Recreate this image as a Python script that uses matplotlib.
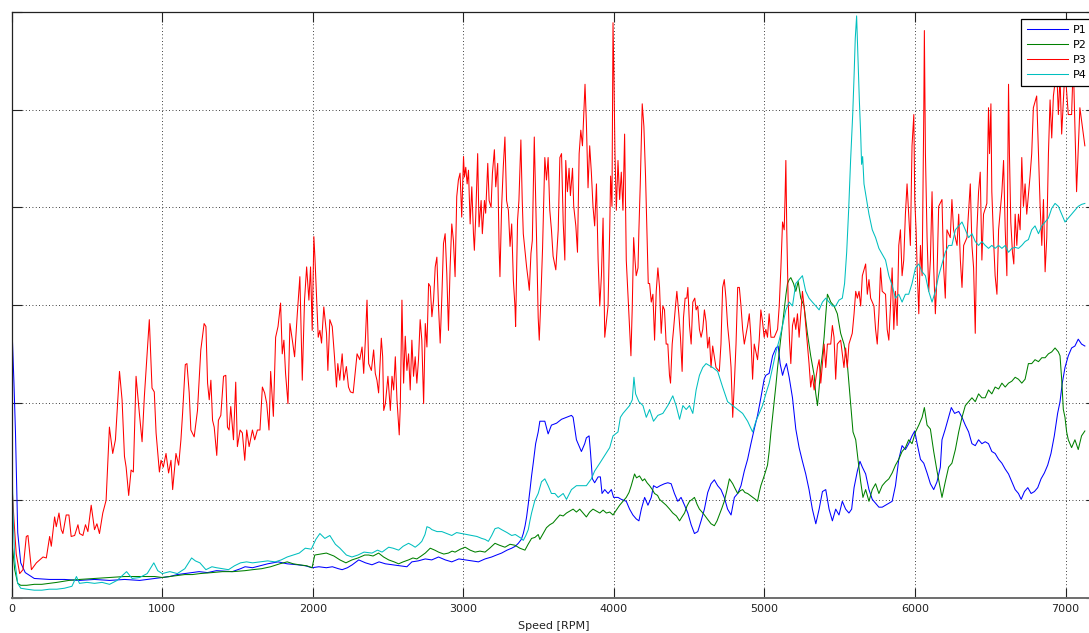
import matplotlib
matplotlib.use("Agg")
import matplotlib.pyplot as plt

plt.rcParams["font.family"] = ["DejaVu Sans"]

# ---- data -------------------------------------------------------------
x_ticks = [0, 1000, 2000, 3000, 4000, 5000, 6000, 7000]
x_tick_labels = ["0", "1000", "2000", "3000", "4000", "5000", "6000", "7000"]
series_names = ["P1", "P2", "P3", "P4"]

p1_rpm = [0, 15, 25, 40, 60, 90, 150, 250, 350, 450, 550, 650, 750, 850, 950, 1000,
          1050, 1100, 1150, 1245, 1300, 1360, 1465, 1520, 1550, 1600, 1650, 1700, 1770,
          1830, 1900, 1950, 1996, 2040, 2090, 2130, 2170, 2195, 2230, 2262, 2305, 2350,
          2393, 2440, 2482, 2530, 2580, 2625, 2658, 2700, 2747, 2790, 2835, 2880, 2923,
          2970, 3012, 3056, 3100, 3144, 3188, 3220, 3254, 3290, 3321, 3345, 3365, 3385,
          3398, 3410, 3420, 3431, 3442, 3453, 3464, 3480, 3497, 3508, 3541, 3563, 3585,
          3619, 3652, 3685, 3718, 3729, 3751, 3773, 3784, 3806, 3817, 3835, 3844, 3857,
          3872, 3895, 3910, 3921, 3939, 3961, 3983, 3998, 4027, 4049, 4082, 4104, 4126,
          4148, 4166, 4182, 4204, 4226, 4248, 4263, 4285, 4307, 4336, 4358, 4380, 4402,
          4424, 4446, 4469, 4491, 4513, 4535, 4557, 4579, 4601, 4623, 4645, 4667, 4689,
          4711, 4733, 4755, 4778, 4800, 4822, 4844, 4866, 4888, 4910, 4932, 4954, 4976,
          4998, 5009, 5031, 5054, 5076, 5091, 5104, 5120, 5131, 5146, 5164, 5186, 5208,
          5230, 5252, 5274, 5296, 5318, 5341, 5363, 5385, 5407, 5429, 5451, 5473, 5495,
          5517, 5539, 5561, 5579, 5595, 5617, 5634, 5650, 5672, 5694, 5716, 5738, 5760,
          5782, 5804, 5826, 5848, 5870, 5892, 5914, 5936, 5958, 5980, 5998, 6014, 6036,
          6058, 6080, 6102, 6124, 6146, 6168, 6179, 6201, 6223, 6241, 6263, 6290, 6312,
          6334, 6356, 6378, 6400, 6422, 6444, 6466, 6488, 6510, 6532, 6555, 6577, 6599,
          6621, 6643, 6665, 6687, 6705, 6727, 6749, 6771, 6793, 6815, 6837, 6859, 6881,
          6903, 6925, 6947, 6963, 6978, 6996, 7018, 7040, 7062, 7084, 7106, 7128]
p1_val = [2.85, 2.20, 1.70, 0.67, 0.36, 0.26, 0.20, 0.19, 0.19, 0.18, 0.19, 0.18, 0.19,
          0.18, 0.20, 0.21, 0.22, 0.24, 0.25, 0.27, 0.26, 0.28, 0.27, 0.30, 0.32, 0.31,
          0.33, 0.35, 0.37, 0.35, 0.34, 0.33, 0.31, 0.32, 0.31, 0.32, 0.30, 0.29, 0.31,
          0.34, 0.39, 0.36, 0.34, 0.37, 0.35, 0.34, 0.33, 0.32, 0.37, 0.38, 0.40, 0.39,
          0.42, 0.39, 0.37, 0.40, 0.39, 0.38, 0.37, 0.40, 0.42, 0.44, 0.46, 0.49, 0.51,
          0.53, 0.56, 0.60, 0.66, 0.74, 0.83, 0.96, 1.10, 1.25, 1.38, 1.58, 1.70, 1.81,
          1.81, 1.68, 1.77, 1.79, 1.83, 1.85, 1.87, 1.85, 1.62, 1.54, 1.50, 1.58, 1.64,
          1.66, 1.50, 1.22, 1.18, 1.24, 1.24, 1.07, 1.11, 1.07, 1.11, 1.03, 1.03, 1.01,
          0.99, 0.91, 0.85, 0.81, 0.79, 0.91, 1.03, 0.95, 1.03, 1.15, 1.13, 1.15, 1.17,
          1.18, 1.17, 1.07, 0.99, 1.03, 0.95, 0.87, 0.75, 0.66, 0.68, 0.79, 0.91, 1.08,
          1.17, 1.21, 1.15, 1.11, 1.03, 0.91, 0.85, 1.03, 1.07, 1.15, 1.30, 1.42, 1.58,
          1.73, 1.87, 2.05, 2.24, 2.28, 2.30, 2.48, 2.56, 2.58, 2.40, 2.28, 2.34, 2.40,
          2.26, 2.05, 1.73, 1.54, 1.40, 1.27, 1.11, 0.91, 0.76, 0.91, 1.09, 1.11, 0.91,
          0.79, 0.91, 0.85, 0.99, 0.91, 0.87, 0.91, 1.13, 1.30, 1.40, 1.34, 1.27, 1.11,
          1.01, 0.97, 0.93, 0.93, 0.95, 0.97, 0.99, 1.15, 1.42, 1.56, 1.52, 1.58, 1.66,
          1.71, 1.58, 1.42, 1.38, 1.28, 1.17, 1.11, 1.19, 1.34, 1.62, 1.73, 1.85, 1.95,
          1.89, 1.91, 1.85, 1.77, 1.70, 1.58, 1.56, 1.62, 1.58, 1.60, 1.58, 1.50, 1.48,
          1.42, 1.38, 1.32, 1.27, 1.19, 1.11, 1.07, 1.01, 1.09, 1.13, 1.07, 1.09, 1.13,
          1.22, 1.28, 1.36, 1.48, 1.66, 1.89, 2.01, 2.20, 2.36, 2.48, 2.56, 2.58, 2.65,
          2.60, 2.58]

p2_rpm = [0, 10, 20, 40, 60, 100, 150, 200, 250, 300, 380, 450, 550, 650, 750, 850,
          950, 1000, 1050, 1100, 1150, 1200, 1250, 1330, 1400, 1470, 1550, 1600, 1660,
          1720, 1780, 1830, 1870, 1910, 1960, 1995, 2013, 2050, 2090, 2140, 2180, 2220,
          2260, 2300, 2345, 2371, 2400, 2437, 2470, 2504, 2540, 2570, 2600, 2636, 2665,
          2691, 2720, 2747, 2780, 2810, 2835, 2870, 2901, 2925, 2945, 2980, 3012, 3045,
          3078, 3110, 3144, 3175, 3210, 3240, 3276, 3310, 3343, 3375, 3409, 3430, 3453,
          3475, 3497, 3508, 3530, 3552, 3574, 3596, 3618, 3641, 3663, 3685, 3707, 3729,
          3751, 3773, 3795, 3817, 3839, 3861, 3884, 3906, 3928, 3950, 3972, 3994, 4016,
          4038, 4060, 4082, 4100, 4115, 4137, 4150, 4170, 4190, 4204, 4220, 4237, 4255,
          4270, 4290, 4303, 4325, 4347, 4370, 4391, 4415, 4436, 4452, 4469, 4485, 4502,
          4520, 4535, 4552, 4568, 4585, 4601, 4620, 4645, 4667, 4685, 4700, 4717, 4733,
          4750, 4767, 4789, 4805, 4822, 4840, 4855, 4870, 4888, 4905, 4921, 4940, 4954,
          4965, 4976, 4998, 5020, 5031, 5043, 5054, 5065, 5076, 5087, 5098, 5109, 5120,
          5131, 5142, 5153, 5164, 5175, 5193, 5208, 5224, 5241, 5263, 5285, 5307, 5330,
          5340, 5352, 5363, 5374, 5385, 5396, 5407, 5418, 5430, 5440, 5462, 5484, 5506,
          5528, 5550, 5561, 5572, 5588, 5606, 5621, 5639, 5654, 5672, 5694, 5716, 5738,
          5760, 5782, 5804, 5826, 5848, 5870, 5892, 5914, 5936, 5958, 5980, 6003, 6025,
          6047, 6062, 6080, 6102, 6124, 6146, 6164, 6179, 6201, 6223, 6245, 6268, 6290,
          6312, 6334, 6356, 6378, 6400, 6422, 6444, 6466, 6488, 6510, 6532, 6555, 6577,
          6599, 6621, 6643, 6665, 6687, 6709, 6731, 6753, 6775, 6797, 6820, 6842, 6864,
          6886, 6908, 6930, 6952, 6963, 6974, 6985, 6996, 7007, 7018, 7040, 7062, 7084,
          7106, 7128]
p2_val = [0.59, 0.45, 0.29, 0.15, 0.13, 0.13, 0.14, 0.14, 0.15, 0.16, 0.18, 0.19, 0.20,
          0.21, 0.22, 0.22, 0.22, 0.21, 0.22, 0.23, 0.24, 0.24, 0.25, 0.26, 0.27, 0.27,
          0.28, 0.29, 0.30, 0.32, 0.35, 0.37, 0.35, 0.34, 0.33, 0.31, 0.44, 0.45, 0.46,
          0.43, 0.39, 0.36, 0.39, 0.41, 0.44, 0.44, 0.43, 0.46, 0.42, 0.39, 0.37, 0.35,
          0.37, 0.39, 0.41, 0.40, 0.43, 0.46, 0.51, 0.49, 0.47, 0.45, 0.46, 0.48, 0.47,
          0.50, 0.52, 0.49, 0.47, 0.48, 0.47, 0.51, 0.56, 0.54, 0.52, 0.55, 0.54, 0.51,
          0.49, 0.55, 0.61, 0.62, 0.65, 0.60, 0.66, 0.72, 0.75, 0.77, 0.81, 0.85, 0.84,
          0.87, 0.89, 0.91, 0.88, 0.91, 0.87, 0.83, 0.88, 0.91, 0.89, 0.87, 0.90, 0.87,
          0.88, 0.85, 0.90, 0.95, 0.99, 1.03, 1.08, 1.15, 1.27, 1.23, 1.25, 1.20, 1.22,
          1.18, 1.15, 1.11, 1.07, 1.05, 1.01, 0.98, 0.95, 0.91, 0.87, 0.84, 0.79, 0.83,
          0.87, 0.94, 0.99, 1.01, 1.03, 0.96, 0.91, 0.88, 0.85, 0.81, 0.76, 0.74, 0.79,
          0.85, 0.92, 0.99, 1.10, 1.22, 1.17, 1.12, 1.07, 1.10, 1.11, 1.08, 1.07, 1.05,
          1.03, 1.01, 0.99, 1.08, 1.15, 1.25, 1.36, 1.50, 1.70, 1.86, 2.01, 2.18, 2.36,
          2.52, 2.67, 2.80, 2.95, 3.10, 3.22, 3.26, 3.28, 3.22, 3.14, 3.24, 3.07, 2.99,
          2.71, 2.48, 2.28, 2.10, 1.97, 2.15, 2.36, 2.50, 2.67, 2.90, 3.11, 3.07, 3.03,
          2.99, 2.91, 2.71, 2.60, 2.40, 2.20, 2.01, 1.70, 1.62, 1.42, 1.19, 1.03, 1.11,
          0.99, 1.11, 1.17, 1.07, 1.15, 1.19, 1.22, 1.28, 1.36, 1.42, 1.50, 1.54, 1.62,
          1.58, 1.70, 1.77, 1.85, 1.95, 1.77, 1.73, 1.50, 1.30, 1.15, 1.03, 1.19, 1.34,
          1.38, 1.52, 1.70, 1.85, 1.97, 2.01, 2.05, 2.01, 2.09, 2.05, 2.05, 2.13, 2.09,
          2.16, 2.14, 2.20, 2.16, 2.20, 2.22, 2.26, 2.24, 2.20, 2.24, 2.40, 2.40, 2.44,
          2.42, 2.46, 2.46, 2.50, 2.52, 2.56, 2.52, 2.48, 2.24, 1.93, 1.85, 1.70, 1.62,
          1.54, 1.62, 1.52, 1.66, 1.71]

p3_rpm = [0, 15, 30, 53, 75, 97, 108, 131, 164, 186, 208, 230, 252, 263, 285, 296, 314,
          329, 340, 362, 380, 395, 418, 440, 451, 473, 490, 506, 528, 550, 566, 583, 605,
          627, 649, 671, 689, 716, 733, 749, 760, 777, 793, 808, 826, 848, 866, 881, 897,
          914, 932, 947, 959, 981, 992, 1007, 1025, 1042, 1058, 1069, 1091, 1109, 1124,
          1135, 1153, 1164, 1179, 1190, 1212, 1234, 1256, 1278, 1290, 1301, 1312, 1323,
          1334, 1345, 1362, 1373, 1389, 1407, 1422, 1433, 1444, 1455, 1473, 1488, 1499,
          1517, 1532, 1548, 1561, 1577, 1599, 1614, 1632, 1649, 1665, 1680, 1694, 1709,
          1720, 1738, 1753, 1769, 1786, 1797, 1808, 1819, 1835, 1848, 1864, 1879, 1897,
          1914, 1930, 1945, 1959, 1974, 1985, 1996, 2007, 2014, 2025, 2036, 2047, 2058,
          2073, 2091, 2100, 2113, 2129, 2144, 2157, 2166, 2179, 2195, 2206, 2223, 2237,
          2250, 2268, 2283, 2294, 2312, 2327, 2338, 2349, 2360, 2371, 2389, 2404, 2415,
          2426, 2437, 2455, 2464, 2471, 2482, 2499, 2515, 2526, 2537, 2548, 2559, 2574,
          2581, 2592, 2603, 2614, 2625, 2636, 2647, 2658, 2669, 2680, 2691, 2702, 2713,
          2724, 2736, 2747, 2758, 2769, 2780, 2791, 2802, 2813, 2824, 2835, 2846, 2857,
          2868, 2879, 2890, 2901, 2912, 2923, 2934, 2945, 2956, 2967, 2978, 2989, 3001,
          3007, 3016, 3025, 3034, 3045, 3056, 3067, 3073, 3082, 3095, 3104, 3118, 3126,
          3140, 3148, 3162, 3171, 3184, 3193, 3206, 3215, 3228, 3237, 3243, 3254, 3265,
          3276, 3287, 3299, 3310, 3321, 3332, 3343, 3347, 3360, 3369, 3382, 3391, 3398,
          3409, 3420, 3431, 3438, 3449, 3458, 3471, 3486, 3497, 3504, 3513, 3526, 3541,
          3552, 3563, 3574, 3585, 3596, 3614, 3630, 3641, 3652, 3663, 3674, 3680, 3691,
          3702, 3711, 3725, 3733, 3747, 3758, 3769, 3780, 3791, 3800, 3808, 3817, 3828,
          3839, 3850, 3861, 3872, 3884, 3895, 3906, 3917, 3928, 3939, 3950, 3961, 3972,
          3978, 3987, 3994, 4000, 4007, 4016, 4027, 4038, 4049, 4060, 4071, 4082, 4093,
          4104, 4113, 4122, 4131, 4140, 4148, 4160, 4166, 4175, 4188, 4199, 4210, 4219,
          4228, 4237, 4248, 4259, 4270, 4281, 4292, 4303, 4314, 4325, 4336, 4347, 4358,
          4369, 4376, 4387, 4396, 4409, 4418, 4431, 4442, 4453, 4462, 4473, 4484, 4491,
          4502, 4513, 4524, 4537, 4546, 4557, 4568, 4579, 4590, 4601, 4612, 4623, 4634,
          4645, 4656, 4678, 4700, 4711, 4722, 4733, 4744, 4755, 4767, 4778, 4789, 4800,
          4811, 4822, 4833, 4844, 4855, 4866, 4888, 4899, 4910, 4921, 4932, 4954, 4965,
          4976, 4987, 4998, 5009, 5020, 5031, 5043, 5065, 5087, 5098, 5109, 5120, 5131,
          5137, 5142, 5148, 5157, 5166, 5175, 5186, 5197, 5208, 5219, 5230, 5241, 5252,
          5263, 5285, 5296, 5307, 5318, 5330, 5352, 5363, 5374, 5385, 5396, 5407, 5418,
          5440, 5451, 5462, 5473, 5484, 5506, 5528, 5539, 5550, 5561, 5583, 5595, 5606,
          5617, 5628, 5639, 5650, 5672, 5683, 5694, 5705, 5727, 5738, 5749, 5760, 5771,
          5782, 5804, 5815, 5826, 5837, 5848, 5859, 5870, 5881, 5892, 5903, 5914, 5925,
          5936, 5947, 5958, 5969, 5980, 5992, 5998, 6007, 6014, 6025, 6036, 6047, 6058,
          6062, 6069, 6080, 6091, 6102, 6113, 6124, 6135, 6146, 6157, 6179, 6190, 6201,
          6212, 6234, 6245, 6256, 6279, 6290, 6301, 6312, 6323, 6345, 6367, 6378, 6389,
          6400, 6411, 6422, 6433, 6444, 6455, 6477, 6488, 6495, 6504, 6510, 6521, 6532,
          6544, 6555, 6577, 6588, 6599, 6610, 6621, 6627, 6636, 6647, 6656, 6665, 6676,
          6687, 6698, 6709, 6720, 6731, 6742, 6764, 6775, 6786, 6808, 6820, 6831, 6842,
          6853, 6864, 6875, 6886, 6897, 6908, 6919, 6941, 6952, 6963, 6974, 6996, 7018,
          7040, 7051, 7073, 7095, 7128]
p3_val = [1.21, 0.80, 0.45, 0.25, 0.29, 0.63, 0.64, 0.29, 0.36, 0.39, 0.42, 0.41, 0.63,
          0.53, 0.83, 0.73, 0.87, 0.70, 0.66, 0.85, 0.85, 0.63, 0.64, 0.75, 0.66, 0.64,
          0.75, 0.68, 0.95, 0.70, 0.76, 0.66, 0.87, 1.00, 1.75, 1.48, 1.62, 2.32, 2.03,
          1.45, 1.34, 1.05, 1.31, 1.29, 2.27, 1.89, 1.60, 2.06, 2.44, 2.85, 2.15, 2.11,
          1.69, 1.29, 1.41, 1.34, 1.48, 1.28, 1.41, 1.11, 1.48, 1.36, 1.62, 1.89, 2.39,
          2.40, 2.10, 1.72, 1.65, 1.92, 2.54, 2.81, 2.78, 2.20, 2.03, 2.23, 1.82, 1.75,
          1.46, 1.82, 1.87, 2.27, 2.28, 1.75, 1.72, 1.96, 1.62, 2.21, 1.55, 1.72, 1.69,
          1.41, 1.72, 1.55, 1.72, 1.62, 1.72, 1.72, 2.16, 2.10, 1.99, 1.72, 2.32, 1.86,
          2.67, 2.78, 3.02, 2.50, 2.64, 2.30, 1.99, 2.81, 2.64, 2.47, 2.91, 3.29, 2.23,
          3.05, 3.39, 3.05, 3.39, 2.74, 3.70, 3.49, 3.08, 2.67, 2.74, 2.61, 2.98, 2.71,
          2.33, 2.85, 2.78, 2.47, 2.16, 2.40, 2.23, 2.50, 2.23, 2.37, 2.16, 2.11, 2.10,
          2.33, 2.50, 2.44, 2.57, 2.30, 2.64, 3.05, 2.40, 2.33, 2.54, 2.30, 2.23, 2.10,
          2.66, 2.47, 1.92, 1.99, 2.27, 1.92, 2.27, 2.13, 2.47, 2.03, 1.67, 1.96, 3.05,
          2.20, 2.68, 2.33, 2.50, 2.13, 2.64, 2.27, 2.47, 2.20, 2.44, 2.85, 2.64, 1.99,
          2.81, 2.57, 3.22, 3.19, 2.88, 3.05, 3.39, 3.49, 2.98, 2.61, 3.08, 3.63, 3.73,
          3.32, 2.74, 3.39, 3.83, 3.66, 3.29, 4.11, 4.28, 4.35, 3.90, 4.52, 4.31, 4.41,
          4.24, 4.38, 3.83, 4.21, 3.73, 3.56, 3.90, 4.55, 3.80, 4.07, 3.73, 4.07, 3.94,
          4.45, 4.07, 4.00, 4.35, 4.59, 4.21, 4.45, 3.60, 3.29, 4.00, 4.41, 4.72, 4.07,
          3.97, 3.60, 3.83, 3.25, 2.98, 2.78, 3.87, 4.07, 4.69, 4.07, 3.73, 3.56, 3.39,
          3.25, 3.15, 3.53, 3.66, 4.72, 3.69, 2.87, 2.64, 2.99, 3.58, 4.51, 4.28, 4.51,
          3.97, 3.77, 3.50, 3.36, 3.77, 4.51, 4.55, 3.85, 3.46, 4.48, 4.16, 4.40, 4.12,
          4.40, 4.01, 3.81, 3.54, 4.55, 4.79, 4.63, 4.95, 5.26, 4.87, 4.20, 4.63, 4.36,
          4.01, 3.81, 4.24, 3.46, 2.99, 3.30, 3.89, 2.67, 2.83, 2.99, 3.77, 4.32, 4.01,
          5.89, 5.34, 4.55, 3.97, 4.48, 4.08, 4.36, 3.97, 4.75, 3.46, 3.11, 2.75, 2.48,
          2.99, 3.69, 3.46, 3.30, 3.38, 3.77, 4.24, 5.06, 4.83, 4.32, 3.77, 3.22, 3.22,
          3.03, 3.11, 2.64, 3.14, 3.38, 3.18, 2.71, 2.99, 2.95, 2.60, 2.60, 2.28, 2.20,
          2.60, 2.75, 2.99, 3.14, 2.91, 2.67, 2.32, 2.87, 3.07, 3.07, 3.18, 2.79, 2.60,
          3.03, 3.07, 2.95, 2.99, 2.75, 2.67, 2.75, 2.95, 2.83, 2.56, 2.67, 2.36, 2.58,
          2.36, 2.32, 2.60, 3.18, 3.26, 3.07, 2.79, 2.60, 2.36, 1.85, 2.20, 2.60, 3.18,
          3.18, 2.99, 2.75, 2.60, 2.79, 2.91, 2.67, 2.24, 2.60, 2.44, 2.64, 2.95, 2.83,
          2.67, 2.75, 2.67, 2.91, 2.67, 2.67, 2.75, 2.99, 3.38, 3.85, 3.77, 4.12, 4.48,
          3.77, 3.07, 2.64, 2.40, 2.79, 2.87, 2.75, 2.91, 2.67, 2.91, 3.14, 2.99, 2.60,
          2.40, 2.16, 2.28, 2.13, 2.36, 2.44, 2.20, 2.40, 2.60, 2.36, 2.60, 2.60, 2.79,
          2.67, 2.24, 2.60, 2.64, 2.36, 2.56, 2.36, 2.60, 2.71, 2.91, 3.14, 3.07, 3.14,
          2.99, 3.30, 3.42, 3.11, 3.26, 3.07, 2.99, 2.75, 2.60, 2.91, 3.38, 3.14, 3.11,
          2.75, 2.64, 2.99, 3.38, 2.75, 3.14, 2.79, 3.61, 3.77, 3.30, 3.46, 3.93, 4.24,
          3.93, 3.61, 4.63, 4.95, 4.08, 3.77, 3.38, 2.91, 3.61, 3.30, 4.95, 5.81, 4.55,
          3.69, 3.14, 3.46, 4.16, 3.38, 2.91, 3.30, 4.01, 4.08, 3.38, 3.07, 3.77, 3.69,
          4.08, 3.77, 3.61, 3.93, 3.46, 3.18, 3.61, 3.69, 4.24, 3.61, 3.38, 2.71, 3.77,
          4.16, 4.36, 3.46, 3.93, 4.04, 5.02, 4.55, 5.06, 4.16, 3.69, 3.30, 3.11, 3.77,
          4.16, 4.48, 3.77, 3.30, 5.26, 4.55, 3.85, 3.54, 3.42, 3.93, 3.61, 3.93, 3.77,
          4.51, 4.01, 4.24, 3.93, 4.32, 4.55, 5.02, 5.14, 4.55, 4.01, 3.61, 4.08, 3.34,
          3.69, 4.55, 5.10, 4.71, 5.14, 5.42, 4.95, 5.34, 4.75, 5.42, 4.95, 4.95, 5.49,
          4.16, 5.02, 4.63]

p4_rpm = [0, 8, 20, 40, 60, 100, 150, 200, 250, 300, 350, 400, 430, 450, 500, 550, 600,
          650, 700, 763, 800, 850, 900, 944, 970, 1000, 1050, 1100, 1150, 1195, 1220,
          1250, 1290, 1330, 1360, 1400, 1440, 1480, 1520, 1560, 1600, 1650, 1700, 1750,
          1790, 1830, 1870, 1910, 1950, 1990, 2020, 2047, 2080, 2113, 2150, 2180, 2223,
          2260, 2300, 2340, 2393, 2430, 2460, 2504, 2533, 2570, 2600, 2636, 2660, 2680,
          2705, 2724, 2745, 2758, 2775, 2791, 2825, 2857, 2890, 2923, 2955, 2989, 3020,
          3056, 3090, 3122, 3144, 3166, 3188, 3210, 3232, 3254, 3290, 3321, 3345, 3365,
          3385, 3398, 3415, 3431, 3442, 3453, 3475, 3497, 3519, 3541, 3563, 3585, 3608,
          3630, 3663, 3685, 3718, 3751, 3784, 3817, 3850, 3872, 3906, 3939, 3972, 3994,
          4027, 4043, 4060, 4082, 4104, 4122, 4133, 4144, 4166, 4193, 4215, 4237, 4263,
          4292, 4325, 4358, 4391, 4413, 4436, 4458, 4480, 4502, 4524, 4546, 4568, 4590,
          4612, 4634, 4656, 4689, 4722, 4755, 4789, 4822, 4855, 4888, 4921, 4943, 4965,
          4987, 5009, 5031, 5054, 5076, 5098, 5120, 5142, 5164, 5186, 5208, 5230, 5252,
          5274, 5296, 5318, 5341, 5363, 5385, 5407, 5429, 5451, 5473, 5495, 5517, 5532,
          5546, 5559, 5572, 5586, 5595, 5603, 5612, 5621, 5630, 5639, 5645, 5652, 5661,
          5678, 5694, 5716, 5738, 5760, 5782, 5804, 5826, 5848, 5870, 5892, 5914, 5936,
          5958, 5980, 6003, 6025, 6047, 6069, 6091, 6113, 6135, 6157, 6179, 6201, 6223,
          6245, 6268, 6290, 6312, 6334, 6356, 6378, 6400, 6422, 6444, 6466, 6488, 6510,
          6532, 6555, 6577, 6599, 6621, 6643, 6665, 6687, 6709, 6731, 6753, 6775, 6797,
          6820, 6842, 6864, 6886, 6908, 6930, 6952, 6974, 6996, 7018, 7040, 7062, 7084,
          7106, 7128]
p4_val = [1.59, 0.93, 0.39, 0.15, 0.10, 0.09, 0.08, 0.08, 0.09, 0.09, 0.10, 0.12, 0.22,
          0.15, 0.16, 0.15, 0.16, 0.14, 0.18, 0.27, 0.20, 0.21, 0.25, 0.36, 0.28, 0.25,
          0.27, 0.25, 0.30, 0.41, 0.38, 0.36, 0.29, 0.32, 0.31, 0.30, 0.29, 0.33, 0.36,
          0.37, 0.36, 0.37, 0.38, 0.37, 0.39, 0.42, 0.44, 0.46, 0.51, 0.50, 0.60, 0.66,
          0.61, 0.64, 0.55, 0.51, 0.44, 0.42, 0.44, 0.47, 0.46, 0.49, 0.47, 0.52, 0.51,
          0.49, 0.53, 0.56, 0.54, 0.52, 0.55, 0.58, 0.65, 0.73, 0.72, 0.70, 0.68, 0.68,
          0.66, 0.64, 0.67, 0.66, 0.65, 0.64, 0.63, 0.61, 0.60, 0.58, 0.64, 0.71, 0.72,
          0.70, 0.67, 0.64, 0.65, 0.63, 0.61, 0.59, 0.64, 0.70, 0.79, 0.87, 1.00, 1.07,
          1.19, 1.22, 1.15, 1.07, 1.07, 1.03, 1.07, 1.01, 1.11, 1.15, 1.15, 1.15, 1.22,
          1.30, 1.38, 1.46, 1.54, 1.66, 1.70, 1.85, 1.89, 1.93, 1.97, 2.03, 2.26, 2.09,
          2.01, 1.97, 1.85, 1.93, 1.81, 1.87, 1.89, 1.97, 2.07, 1.97, 1.83, 1.97, 1.93,
          1.97, 1.89, 2.13, 2.28, 2.36, 2.40, 2.38, 2.36, 2.32, 2.16, 2.01, 1.97, 1.93,
          1.89, 1.81, 1.70, 1.81, 1.89, 1.97, 2.09, 2.20, 2.36, 2.52, 2.64, 2.79, 2.95,
          3.03, 2.99, 3.22, 3.26, 3.30, 3.14, 3.07, 3.03, 2.99, 2.95, 3.03, 3.07, 3.03,
          2.99, 2.99, 3.05, 3.07, 3.22, 3.54, 3.97, 4.48, 4.95, 5.34, 5.73, 5.96, 5.53,
          5.10, 4.75, 4.44, 4.52, 4.24, 4.08, 3.93, 3.77, 3.69, 3.58, 3.52, 3.46, 3.30,
          3.20, 3.07, 3.11, 3.03, 3.11, 3.11, 3.22, 3.38, 3.42, 3.34, 3.30, 3.14, 3.03,
          3.14, 3.30, 3.42, 3.54, 3.61, 3.61, 3.77, 3.81, 3.85, 3.77, 3.69, 3.73, 3.65,
          3.61, 3.65, 3.61, 3.58, 3.61, 3.58, 3.61, 3.58, 3.61, 3.54, 3.58, 3.59, 3.58,
          3.61, 3.65, 3.67, 3.77, 3.81, 3.73, 3.81, 3.85, 3.89, 3.99, 4.04, 4.01, 3.93,
          3.85, 3.89, 3.93, 3.97, 4.01, 4.03, 4.04]

colors = ["#0000ff", "#008000", "#ff0000", "#00bfbf"]

# ---- figure -----------------------------------------------------------
W, H = 1089, 633
fig = plt.figure(figsize=(W / 100, H / 100), dpi=100)
# the plot area runs slightly past the right border of the canvas
ax = fig.add_axes([11.7 / W, 35 / H, 1084 / W, 586 / H])

for rpm, val, name, col in zip([p1_rpm, p2_rpm, p3_rpm, p4_rpm],
                               [p1_val, p2_val, p3_val, p4_val],
                               series_names, colors):
    ax.plot(rpm, val, color=col, lw=0.75, label=name)

ax.set_xlim(0, 7200)
ax.set_ylim(0, 6)
ax.set_xticks(x_ticks)
ax.set_xticklabels(x_tick_labels)
ax.set_yticks([0, 1, 2, 3, 4, 5, 6])
ax.set_yticklabels([])
ax.tick_params(direction="in", length=7, width=0.8, top=True, right=True,
               labelsize=8, pad=4.5, labelcolor="#222222", color="#222222")
ax.grid(True, color="#000000", linestyle=(0, (1, 3)), linewidth=0.6)
for s in ax.spines.values():
    s.set_color("#222222")
    s.set_linewidth(0.9)
ax.spines["bottom"].set_color("#6e6e6e")
ax.spines["bottom"].set_linewidth(1.4)
ax.set_xlabel("Speed [RPM]", fontsize=8, labelpad=5, color="#222222")

leg = ax.legend(loc="upper left", bbox_to_anchor=(1021 / W, 1 - 19 / H),
                bbox_transform=fig.transFigure, borderaxespad=0, fontsize=8,
                handlelength=3.7, handletextpad=0.4, labelspacing=0.45,
                borderpad=0.55, fancybox=False, framealpha=1, shadow=False)
leg.get_frame().set_edgecolor("#000000")
leg.get_frame().set_linewidth(0.9)

fig.savefig("out.png", dpi=100)
